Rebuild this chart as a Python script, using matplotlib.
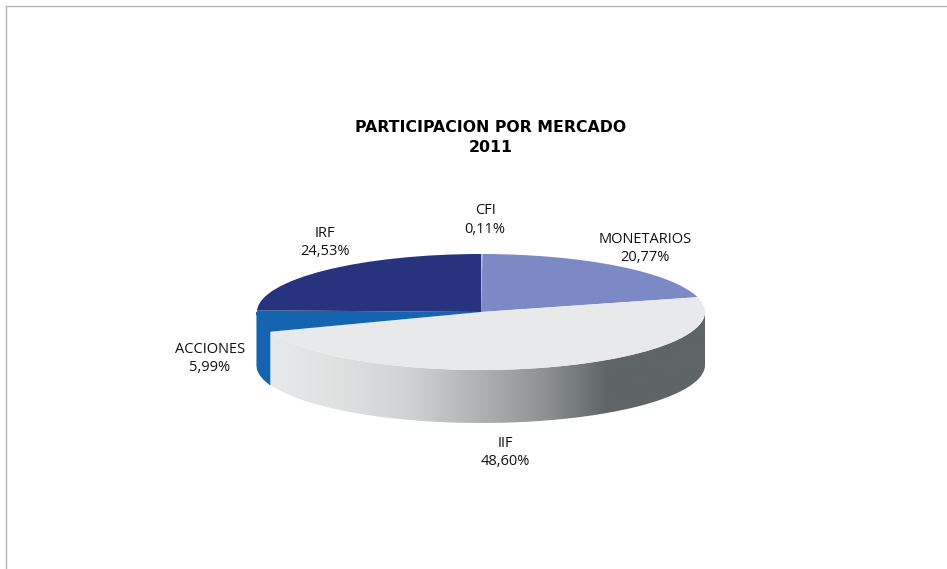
import numpy as np
import matplotlib
matplotlib.use("Agg")
import matplotlib.pyplot as plt
from matplotlib.colors import LinearSegmentedColormap
from matplotlib.lines import Line2D
from matplotlib.patches import Polygon

# data, in drawing order (clockwise from 12 o'clock)
mercados = ["CFI", "MONETARIOS", "IIF", "ACCIONES", "IRF"]
participacion = [0.11, 20.77, 48.60, 5.99, 24.53]
colores = ["#7fd3e6", "#7b89c4", "#e8e9ea", "#1464b0", "#27337f"]
titulo = "PARTICIPACION POR MERCADO\n2011"

# label centres in pixels of the 947x569 image
pos_etiquetas = [(485, 220), (645, 248.5), (505, 452.5), (210, 358.5), (325, 242.5)]

W, H = 947, 569
CX, CY, RX, RY, DEPTH = 481, 312, 224, 58, 53

# gradient of the IIF wall, (pixel x, colour)
grad_x = [270, 340, 407, 475, 545, 608, 705]
grad_c = ["#e8e9ea", "#dfe1e1", "#cfd3d3", "#b0b4b5", "#8d9192", "#5f6466", "#5f6466"]

plt.rcParams["font.family"] = ["Open Sans", "DejaVu Sans"]

fig = plt.figure(figsize=(W / 100, H / 100), dpi=100)
ax = fig.add_axes([0, 0, 1, 1])

# top face of the pie, squashed afterwards by the axis limits
ax.pie(participacion, colors=colores, startangle=90, counterclock=False,
       radius=1, wedgeprops={"linewidth": 0})
ax.set_aspect("auto")
ax.axis("off")

d = DEPTH / RY
fin = 90 - np.cumsum(participacion) * 3.6
inicio = fin + np.array(participacion) * 3.6


def pared(t0, t1):
    # side wall between two angles of the lower half, in degrees
    t = np.radians(np.linspace(t0, t1, 100))
    x, y = np.cos(t), np.sin(t)
    return np.vstack([np.column_stack([x, y]), np.column_stack([x[::-1], y[::-1] - d])])


i_iif = mercados.index("IIF")
i_acc = mercados.index("ACCIONES")

# ACCIONES wall, same colour as its top so the seam must not show
ax.add_patch(Polygon(pared(-180, inicio[i_acc]), closed=True, fc=colores[i_acc],
                     ec=colores[i_acc], lw=0.8, zorder=0.5))

# IIF wall with the horizontal gradient
cmap = LinearSegmentedColormap.from_list(
    "pared", [((x - grad_x[0]) / (grad_x[-1] - grad_x[0]), c) for x, c in zip(grad_x, grad_c)])
x0, x1 = (grad_x[0] - CX) / RX, (grad_x[-1] - CX) / RX
im = ax.imshow(np.linspace(0, 1, 512)[None, :], extent=[x0, x1, -1 - d, 0], cmap=cmap,
               aspect="auto", zorder=0.6, interpolation="bilinear")
clip = Polygon(pared(fin[i_iif], 0), closed=True, transform=ax.transData)
im.set_clip_path(clip)
ax.set_xlim(-CX / RX, (W - CX) / RX)
ax.set_ylim((CY - H) / RY, CY / RY)

# labels
for nombre, valor, (px, py) in zip(mercados, participacion, pos_etiquetas):
    fig.text(px / W, 1 - py / H, f"{nombre}\n{valor:.2f}%".replace(".", ","),
             ha="center", va="center", fontsize=10.5, color="#111111", linespacing=1.3)

fig.text(490.5 / W, 1 - 137.5 / H, titulo, ha="center", va="center", fontsize=11.3,
         family=["DejaVu Sans"], fontweight="bold", color="black", linespacing=1.47)

# chart frame, only top and left survive in the picture
fig.add_artist(Line2D([6 / W, 6 / W, 1], [0, 1 - 5.5 / H, 1 - 5.5 / H], color="#b4b4b4", lw=1))

fig.savefig("out.png", dpi=100)
